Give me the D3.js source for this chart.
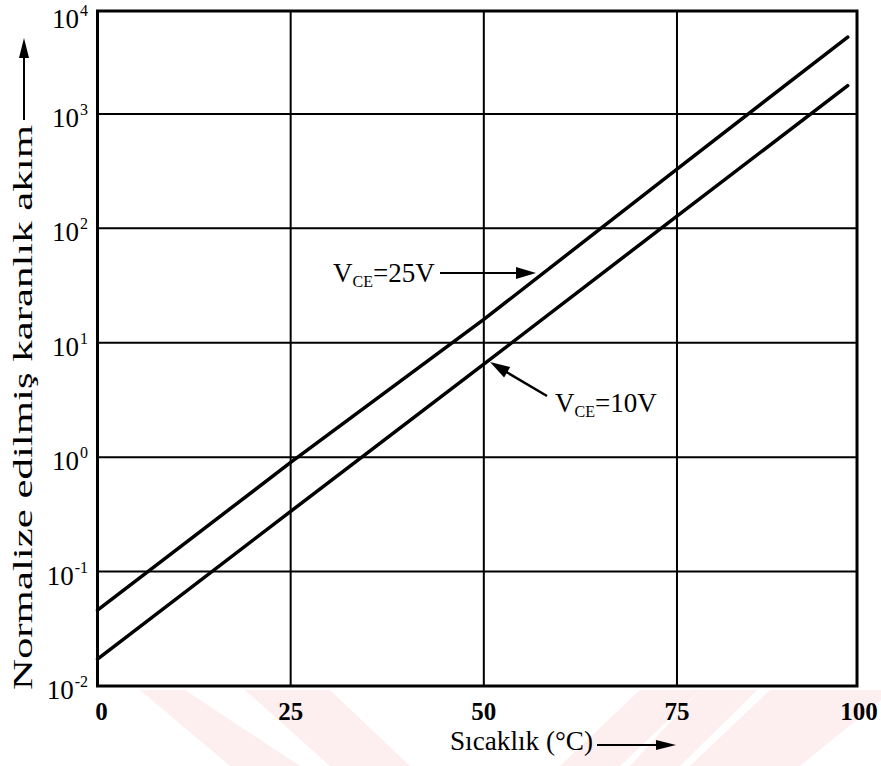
<!DOCTYPE html>
<html><head><meta charset="utf-8">
<script src="https://cdn.jsdelivr.net/npm/d3@7"></script>
<style>
html,body{margin:0;padding:0;background:#fff;}
svg{display:block;}
text{font-family:"Liberation Serif","Times New Roman",serif;fill:#000;}
</style></head>
<body>
<svg id="c" width="881" height="766"></svg>
<script>
// ---- data ----
const temps = [0, 25, 50, 75, 97.1];
const vce25 = [0.046, 0.9, 16, 330, 4700];
const vce10 = [0.0172, 0.336, 6.5, 128, 1766];
const xTickValues = [0, 25, 50, 75, 98.3];
const xTickLabels = ["0", "25", "50", "75", "100"];
const yTickValues = [1e-2, 1e-1, 1e0, 1e1, 1e2, 1e3, Math.pow(10, 3.9)];
const yTickExps = ["-2", "-1", "0", "1", "2", "3", "4"];
const xTitle = "Sıcaklık (°C)";
const yTitle = "Normalize edilmiş karanlık akım";

const svg = d3.select("#c");

// watermark bands (light pink)
const wm = svg.append("g").attr("fill", "#fdeef0");
[[[140,690],[185,690],[300,766],[230,766]],
 [[245,690],[330,690],[410,766],[330,766]],
 [[560,766],[640,690],[700,690],[620,766]],
 [[690,766],[770,690],[881,690],[881,700],[800,766]],
 [[700,690],[757,690],[680,766],[630,766]]
].forEach(p => wm.append("polygon").attr("points", p.map(d => d.join(",")).join(" ")));

const x = d3.scaleLinear().domain([0, 98.3]).range([97.5, 857]);
const y = d3.scaleLog().domain([1e-2, Math.pow(10, 3.9)]).range([686, 11]);

const g = svg.append("g");

// grid
g.append("g").selectAll("line").data(xTickValues.slice(1, -1)).join("line")
  .attr("x1", d => x(d)).attr("x2", d => x(d))
  .attr("y1", y.range()[0]).attr("y2", y.range()[1])
  .attr("stroke", "#000").attr("stroke-width", 2);
g.append("g").selectAll("line").data(yTickValues.slice(1, -1)).join("line")
  .attr("y1", d => y(d)).attr("y2", d => y(d))
  .attr("x1", x.range()[0]).attr("x2", x.range()[1])
  .attr("stroke", "#000").attr("stroke-width", 2);

// frame
g.append("rect").attr("x", x.range()[0]).attr("y", y.range()[1])
  .attr("width", x.range()[1] - x.range()[0]).attr("height", y.range()[0] - y.range()[1])
  .attr("fill", "none").attr("stroke", "#000").attr("stroke-width", 3);

// series
const line = d3.line().x(d => x(d[0])).y(d => y(d[1]));
[vce25, vce10].forEach(vals => {
  g.append("path").datum(temps.map((t, i) => [t, vals[i]]))
    .attr("d", line).attr("fill", "none").attr("stroke", "#000")
    .attr("stroke-width", 3.5).attr("stroke-linecap", "round");
});

// x tick labels
g.append("g").selectAll("text").data(xTickValues).join("text")
  .attr("x", (d, i) => x(d) + (i === 0 ? 4 : (i === xTickValues.length - 1 ? 2 : 0)))
  .attr("y", 720).attr("text-anchor", "middle")
  .attr("font-size", 25).attr("font-weight", "bold")
  .text((d, i) => xTickLabels[i]);

// y tick labels
const yt = g.append("g").selectAll("text").data(yTickValues).join("text")
  .attr("x", 88).attr("y", (d, i) => y(d) + (i === yTickValues.length - 1 ? 17 : 13))
  .attr("text-anchor", "end").attr("font-size", 27);
yt.append("tspan").text("10");
yt.append("tspan").attr("font-size", 16).attr("dy", -12).attr("dx", 1).text((d, i) => yTickExps[i]);

function arrowHead(p, tipX, tipY, angle, len, half) {
  const a = angle;
  const bx = tipX - len * Math.cos(a), by = tipY - len * Math.sin(a);
  const nx = -Math.sin(a), ny = Math.cos(a);
  p.append("polygon").attr("points",
    [[tipX, tipY], [bx + nx * half, by + ny * half], [bx - nx * half, by - ny * half]]
      .map(d => d.join(",")).join(" ")).attr("fill", "#000");
}

// x title with arrow
svg.append("text").attr("x", 450).attr("y", 750).attr("font-size", 27)
  .attr("textLength", 143).attr("lengthAdjust", "spacingAndGlyphs").text(xTitle);
svg.append("line").attr("x1", 597).attr("x2", 660).attr("y1", 745).attr("y2", 745)
  .attr("stroke", "#000").attr("stroke-width", 2);
arrowHead(svg, 676, 745, 0, 20, 5);

// y title with arrow
const yg = svg.append("g").attr("transform", "translate(32,690) rotate(-90)");
yg.append("text").attr("x", 0).attr("y", 0).attr("font-size", 27)
  .attr("textLength", 565).attr("lengthAdjust", "spacingAndGlyphs").text(yTitle);
svg.append("line").attr("x1", 24).attr("x2", 24).attr("y1", 120).attr("y2", 55)
  .attr("stroke", "#000").attr("stroke-width", 2);
arrowHead(svg, 24, 38, -Math.PI / 2, 20, 5);

// annotations
function vceLabel(px, py, val) {
  const t = svg.append("text").attr("x", px).attr("y", py).attr("font-size", 27);
  t.append("tspan").text("V");
  t.append("tspan").attr("font-size", 16).attr("dy", 5).text("CE");
  t.append("tspan").attr("dy", -5).text("=" + val);
}
vceLabel(333, 282, "25V");
svg.append("line").attr("x1", 440).attr("x2", 520).attr("y1", 273).attr("y2", 273)
  .attr("stroke", "#000").attr("stroke-width", 2);
arrowHead(svg, 536, 273, 0, 20, 6);

vceLabel(555, 412, "10V");
const a10 = Math.atan2(362 - 396, 490 - 547);
svg.append("line").attr("x1", 547).attr("y1", 396).attr("x2", 503).attr("y2", 370)
  .attr("stroke", "#000").attr("stroke-width", 2.5);
arrowHead(svg, 490, 362, a10, 20, 6);
</script>
</body></html>
